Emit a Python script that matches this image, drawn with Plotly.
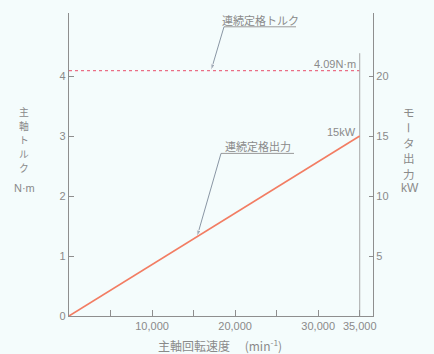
import plotly.graph_objects as go

# Spindle output characteristics
speed_max = 35000            # min^-1
rated_torque = 4.09          # N·m
rated_power = 15             # kW
power_line_speed = [0, 35000]
power_line_kw = [0, 15]
torque_line_speed = [0, 35000]
torque_line_nm = [4.09, 4.09]
limit_speed = [35000, 35000]
limit_nm = [0, 4.38]

x_tickvals = [10000, 20000, 30000, 35000]
x_ticktext = ["10,000", "20,000", "30,000", "35,000"]
x_minor_step = 5000
y_tickvals = [0, 1, 2, 3, 4]
y2_tickvals = [5, 10, 15, 20]

BG = "#f4fcfc"
AX = "#8e8e8e"
TXT = "#8a8a8a"
LEADER = "#7d8a9a"
JP = "Noto Sans CJK JP"
LAT = "Liberation Sans"
X_RANGE = [0, 36600]
Y_RANGE = [0, 5.05]
Y2_RANGE = [0, 25.25]

W, H = 434, 354
ML, MR, MT, MB = 69, 61, 13, 38
PW, PH = W - ML - MR, H - MT - MB


def px_to_paper(xpx, ypx):
    return (xpx - ML) / PW, (H - MB - ypx) / PH


fig = go.Figure()

fig.add_trace(go.Scatter(x=torque_line_speed, y=torque_line_nm, mode="lines",
                         line=dict(color="#ea6f86", width=1.2, dash="dot"),
                         hoverinfo="skip"))
fig.add_trace(go.Scatter(x=limit_speed, y=limit_nm, mode="lines",
                         line=dict(color="#a8a8a8", width=1),
                         hoverinfo="skip"))
fig.add_trace(go.Scatter(x=power_line_speed, y=power_line_kw, mode="lines",
                         yaxis="y2",
                         line=dict(color="#f27d63", width=1.6),
                         hoverinfo="skip"))


# leader lines: underline + slanted line ending in a small arrowhead
def leader(x_under0, x_under1, y_under, x_head, y_head):
    fig.add_trace(go.Scatter(x=[x_under1, x_under0], y=[y_under, y_under],
                             mode="lines", line=dict(color="#9a9a9a", width=1),
                             hoverinfo="skip"))
    fig.add_trace(go.Scatter(x=[x_under0, x_head], y=[y_under, y_head],
                             mode="lines+markers",
                             line=dict(color=LEADER, width=0.9),
                             marker=dict(symbol="arrow", size=[0, 7],
                                         angleref="previous", color=LEADER),
                             hoverinfo="skip"))


leader(18660, 27330, 4.82, 17100, rated_torque)
leader(18300, 27090, 2.71, 15410, rated_power * 15410 / speed_max / 5)

ann = []


def add_text(text, x, y, size=11, xref="x", yref="y", xanchor="center",
             yanchor="middle", angle=0, font=JP):
    ann.append(dict(text=text, x=x, y=y, xref=xref, yref=yref,
                    xanchor=xanchor, yanchor=yanchor, showarrow=False,
                    textangle=angle, borderpad=0,
                    font=dict(family=font, size=size, color=TXT)))


def add_px_text(text, xpx, ypx, size=11, font=JP, angle=0):
    px, py = px_to_paper(xpx, ypx)
    add_text(text, px, py, size=size, xref="paper", yref="paper", font=font,
             angle=angle)


# callout labels
add_text("連続定格トルク", 23000, 4.94, size=11)
add_text("連続定格出力", 22750, 2.83, size=11)

# values at the rated point
add_text("4.09N·m", 34700, 4.2, size=11, xanchor="right", font=LAT)
add_text("15kW", 34700, 3.07, size=11, xanchor="right", font=LAT)


# vertical axis titles: one character per row, long-vowel mark turned upright
def vertical_title(chars, xpx, ycenters, size):
    for ch, ypx in zip(chars, ycenters):
        add_px_text(ch, xpx, ypx, size=size, angle=90 if ch == "ー" else 0)


vertical_title("主軸トルク", 24, [111.5, 125.5, 139.5, 153.5, 167.5], 9.8)
vertical_title("モータ出力", 409, [112, 128, 143, 158, 174], 11.5)

add_px_text("N·m", 24, 188, font=LAT)
add_px_text("kW", 410, 188, font=LAT, size=12)
add_px_text("主軸回転速度　 (min<sup>-1</sup>)", 220, 345, size=12)

fig.update_layout(
    width=W, height=H,
    margin=dict(l=ML, r=MR, t=MT, b=MB),
    paper_bgcolor=BG, plot_bgcolor=BG,
    showlegend=False,
    annotations=ann,
    xaxis=dict(range=X_RANGE, tickvals=x_tickvals, ticktext=x_ticktext,
               ticks="inside", ticklen=6, tickcolor=AX, showline=True,
               linecolor=AX, linewidth=1.2, showgrid=False, zeroline=False,
               minor=dict(dtick=x_minor_step, tick0=0, ticks="inside",
                          ticklen=6, tickcolor=AX, showgrid=False),
               tickfont=dict(family=LAT, size=11, color=TXT)),
    yaxis=dict(range=Y_RANGE, tickvals=y_tickvals, ticks="inside", ticklen=5,
               tickcolor=AX, showline=True, linecolor=AX, linewidth=1.2,
               showgrid=False, zeroline=False,
               tickfont=dict(family=LAT, size=11, color=TXT)),
    yaxis2=dict(range=Y2_RANGE, tickvals=y2_tickvals, overlaying="y",
                side="right", ticks="inside", ticklen=4, tickcolor=AX,
                showline=True, linecolor=AX, linewidth=1.2, showgrid=False,
                zeroline=False,
                tickfont=dict(family=LAT, size=11, color=TXT)),
)

fig.write_html("out.html")
